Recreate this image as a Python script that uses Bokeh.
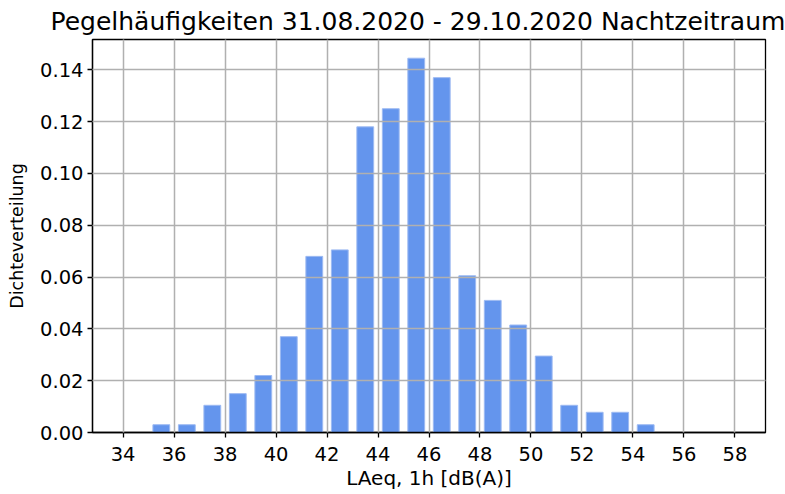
from bokeh.plotting import figure
from bokeh.models import FixedTicker, PrintfTickFormatter, Range1d
from bokeh.embed import file_html
from bokeh.resources import INLINE

# Histogram data: bin left edges (width 1 dB) and density values
bin_left = list(range(34, 58))
density = [0.0, 0.003, 0.003, 0.0105, 0.015, 0.022, 0.037, 0.068, 0.0705, 0.118,
           0.125, 0.1445, 0.137, 0.0605, 0.051, 0.0415, 0.0295, 0.0105, 0.0078, 0.0078,
           0.003, 0.0, 0.0, 0.0]
x_ticks = list(range(34, 59, 2))
y_ticks = [0.0, 0.02, 0.04, 0.06, 0.08, 0.10, 0.12, 0.14]

title_text = "Pegelhäufigkeiten 31.08.2020 - 29.10.2020 Nachtzeitraum"
x_label = "LAeq, 1h [dB(A)]"
y_label = "Dichteverteilung"

centers = [b + 0.5 for b in bin_left]
span = bin_left[-1] + 1 - bin_left[0]

p = figure(width=785, height=494, output_backend="svg", toolbar_location=None,
           x_range=Range1d(bin_left[0] - 0.05 * span, bin_left[-1] + 1 + 0.05 * span),
           y_range=Range1d(0, max(density) * 1.05),
           min_border_left=92, min_border_right=20, min_border_top=39, min_border_bottom=62)

p.vbar(x=centers, top=density, bottom=0, width=0.66,
       fill_color="#6495ED", line_color="#9dbaf2", line_width=1)

FONT = "DejaVu Sans"
p.title.text = title_text
p.title.text_font = FONT
p.title.text_font_size = "25px"
p.title.text_font_style = "normal"
p.title.align = "left"
p.title.offset = -42
p.title.text_color = "black"
p.title.standoff = 8

for ax in (p.xaxis[0], p.yaxis[0]):
    ax.major_label_text_font = FONT
    ax.major_label_text_font_size = "19.5px"
    ax.major_label_text_color = "black"
    ax.axis_label_text_font = FONT
    ax.axis_label_text_font_style = "normal"
    ax.axis_label_text_color = "black"
    ax.axis_line_color = "black"
    ax.axis_line_width = 1.3
    ax.major_tick_line_color = "black"
    ax.major_tick_line_width = 1.3
    ax.major_tick_out = 5
    ax.major_tick_in = 0
    ax.minor_tick_line_color = None

p.xaxis.major_label_standoff = 9
p.yaxis.major_label_standoff = 4
p.xaxis.axis_label = x_label
p.xaxis.axis_label_text_font_size = "20px"
p.xaxis.axis_label_standoff = 2
p.yaxis.axis_label = y_label
p.yaxis.axis_label_text_font_size = "17.5px"
p.yaxis.axis_label_standoff = 10

p.xaxis.ticker = FixedTicker(ticks=x_ticks)
p.yaxis.ticker = FixedTicker(ticks=y_ticks)
p.yaxis.formatter = PrintfTickFormatter(format="%.2f")

p.xgrid.ticker = FixedTicker(ticks=x_ticks)
p.ygrid.ticker = FixedTicker(ticks=y_ticks)
for g in (p.xgrid[0], p.ygrid[0]):
    g.grid_line_color = "#b0b0b0"
    g.grid_line_width = 1.5
    g.level = "overlay"

p.outline_line_color = "black"
p.outline_line_width = 1.3
p.outline_line_alpha = 1
p.background_fill_color = "white"
p.border_fill_color = "white"

open("out.html", "w").write(file_html(p, INLINE))
